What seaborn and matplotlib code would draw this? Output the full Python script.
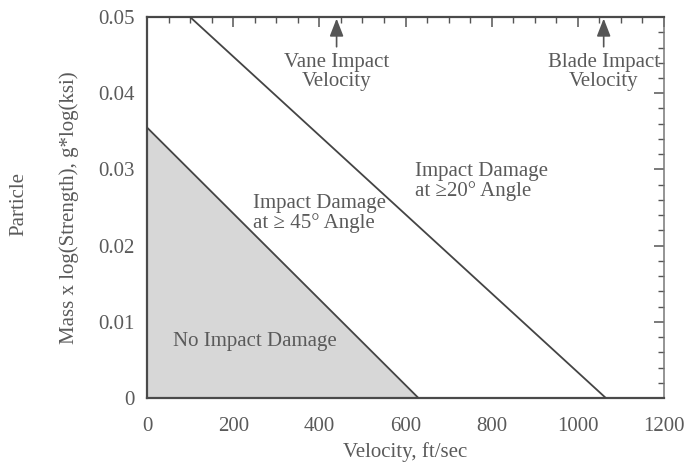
import matplotlib
matplotlib.use("Agg")
import matplotlib.pyplot as plt
from matplotlib.ticker import MultipleLocator
import seaborn as sns
import pandas as pd

# Damage-threshold boundaries (velocity in ft/sec, mass x log(strength))
v45 = [0, 630]
m45 = [0.0355, 0.0]
v20 = [0, 100, 1065]
m20 = [0.05, 0.05, 0.0]

# Reference velocities marked by arrows
marker_names = ["Vane Impact\nVelocity", "Blade Impact\nVelocity"]
marker_v = [440, 1060]

xticks = [0, 200, 400, 600, 800, 1000, 1200]
yticks = [0, 0.01, 0.02, 0.03, 0.04, 0.05]
ytick_labels = ["0", "0.01", "0.02", "0.03", "0.04", "0.05"]

sns.set_theme(style="white")
plt.rcParams["font.family"] = ["Liberation Serif", "DejaVu Serif"]
ink = "#5a5a5a"
line_col = "#444444"
fs = 15

fig = plt.figure(figsize=(6.89, 4.68), dpi=100)
ax = fig.add_axes([0.2134, 0.1496, 0.7503, 0.814])

# shaded no-damage region
ax.fill_between(v45, m45, 0, color="#d7d7d7", lw=0, zorder=1)

df45 = pd.DataFrame({"v": v45, "m": m45})
df20 = pd.DataFrame({"v": v20, "m": m20})
sns.lineplot(data=df45, x="v", y="m", ax=ax, color=line_col, lw=1.3, sort=False, zorder=3)
sns.lineplot(data=df20, x="v", y="m", ax=ax, color=line_col, lw=1.3, sort=False, zorder=3)

for name, v in zip(marker_names, marker_v):
    ax.annotate("", xy=(v, 0.0498), xytext=(v, 0.0461),
                arrowprops=dict(arrowstyle="-|>,head_length=0.9,head_width=0.35",
                                color="#555555", lw=1.2,
                                mutation_scale=12, shrinkA=0, shrinkB=0))
    ax.text(v, 0.0428, name, ha="center", va="center", fontsize=fs,
            color=ink, linespacing=1.05)

ax.text(622, 0.0284, "Impact Damage\nat \u226520\u00b0 Angle", ha="left", va="center",
        fontsize=fs, color=ink, linespacing=1.05)
ax.text(246, 0.0242, "Impact Damage\nat \u2265 45\u00b0 Angle", ha="left", va="center",
        fontsize=fs, color=ink, linespacing=1.05)
ax.text(60, 0.0074, "No Impact Damage", ha="left", va="center",
        fontsize=fs, color=ink)

ax.set_xlim(0, 1200)
ax.set_ylim(0, 0.05)
ax.set_xticks(xticks)
ax.set_yticks(yticks)
ax.set_yticklabels(ytick_labels)
ax.xaxis.set_minor_locator(MultipleLocator(50))
ax.yaxis.set_minor_locator(MultipleLocator(0.002))
ax.tick_params(which="both", direction="in", top=True, right=True,
               colors="#555555", labelcolor=ink, labelsize=fs)
ax.tick_params(which="major", length=7, width=1.1)
ax.tick_params(which="minor", length=4, width=1.0)
ax.tick_params(axis="x", pad=14)
ax.tick_params(axis="y", pad=9)
for s in ax.spines.values():
    s.set_color("#4a4a4a")
    s.set_linewidth(1.6)
ax.spines["right"].set_linewidth(1.1)
ax.spines["right"].set_color("#777777")

ax.set_xlabel("Velocity, ft/sec", fontsize=fs, color=ink, labelpad=4)
ax.set_ylabel("Mass x log(Strength), g*log(ksi)", fontsize=fs, color=ink, labelpad=14)
fig.text(0.027, 0.565, "Particle", rotation=90, ha="center", va="center",
         fontsize=fs, color=ink)

fig.savefig("out.png", dpi=100)
